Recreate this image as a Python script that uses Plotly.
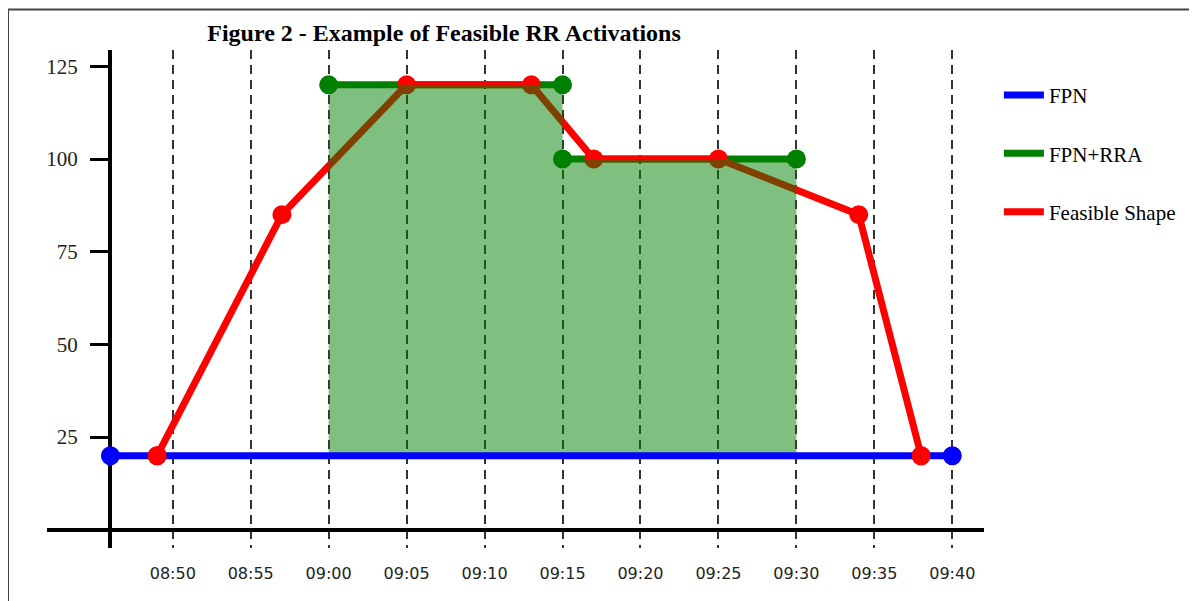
import plotly.graph_objects as go

DAY = "2024-01-01 "

# FPN (flat physical notification)
fpn_time = ["08:46", "09:40"]
fpn_mw = [20, 20]

# FPN + RR acceptance, two blocks
rra_time = ["09:00", "09:15", None, "09:15", "09:30"]
rra_mw = [120, 120, None, 100, 100]

# feasible shape
shape_time = ["08:49", "08:57", "09:05", "09:13", "09:17", "09:25", "09:34", "09:38"]
shape_mw = [20, 85, 120, 120, 100, 100, 85, 20]

tick_times = ["08:50", "08:55", "09:00", "09:05", "09:10", "09:15",
              "09:20", "09:25", "09:30", "09:35", "09:40"]
y_ticks = [25, 50, 75, 100, 125]


def ts(t):
    return None if t is None else DAY + t


# polygon for the shaded RRA area: from the FPN level up to the RRA blocks
blocks = [(rra_time[i], rra_time[i + 1], rra_mw[i]) for i in range(len(rra_time) - 1)
          if rra_time[i] is not None and rra_time[i + 1] is not None]
fill_x = [ts(blocks[0][0])]
fill_y = [fpn_mw[0]]
for t0, t1, v in blocks:
    fill_x += [ts(t0), ts(t1)]
    fill_y += [v, v]
fill_x.append(ts(blocks[-1][1]))
fill_y.append(fpn_mw[-1])

fig = go.Figure()


def add_series(times, vals, name, color, group, rank):
    # line trace carries the legend entry, markers are a separate trace
    x = [ts(t) for t in times]
    fig.add_trace(go.Scatter(x=x, y=vals, name=name, mode="lines",
                             line=dict(color=color, width=7),
                             legendgroup=group, legendrank=rank))
    fig.add_trace(go.Scatter(x=x, y=vals, name=name, mode="markers",
                             marker=dict(size=19, color=color),
                             legendgroup=group, showlegend=False))


add_series(rra_time, rra_mw, "FPN+RRA", "green", "b", 2)
add_series(shape_time, shape_mw, "Feasible Shape", "red", "c", 3)

fig.add_trace(go.Scatter(
    x=fill_x, y=fill_y, fill="toself", fillcolor="rgba(0,128,0,0.5)",
    mode="none", showlegend=False, hoverinfo="skip"))

add_series(fpn_time, fpn_mw, "FPN", "blue", "a", 1)

# the shape's start/end points sit on the FPN line and stay visible above it
ends = [i for i, v in enumerate(shape_mw) if v == fpn_mw[0]]
fig.add_trace(go.Scatter(
    x=[ts(shape_time[i]) for i in ends], y=[shape_mw[i] for i in ends],
    mode="markers", marker=dict(size=19, color="red"),
    legendgroup="c", showlegend=False))

# page frame (top and left edges)
fig.add_shape(type="line", xref="paper", yref="paper", x0=-0.0416, x1=1.3,
              y0=1.0813, y1=1.0813, line=dict(color="#444", width=2))
fig.add_shape(type="line", xref="paper", yref="paper", x0=-0.0416, x1=-0.0416,
              y0=1.0813, y1=-0.2, line=dict(color="#444", width=2))

fig.update_layout(
    width=1189, height=593,
    margin=dict(l=39, r=213, t=42, b=53),
    paper_bgcolor="white", plot_bgcolor="white",
    title=dict(text="<b>Figure 2 - Example of Feasible RR Activations</b>",
               x=0.4237, xref="paper", xanchor="center",
               y=1 - 25 / 593, yref="container", yanchor="middle",
               font=dict(family="Liberation Serif", size=24, color="black")),
    showlegend=True,
    legend=dict(x=1.0159, xanchor="left", y=0.95, yanchor="top",
                traceorder="grouped", tracegroupgap=28, itemwidth=40,
                font=dict(family="Liberation Serif", size=21, color="black"),
                bgcolor="rgba(0,0,0,0)"),
    xaxis=dict(
        type="date", range=[DAY + "08:41:56", DAY + "09:42:02"],
        tickvals=[ts(t) for t in tick_times], tickformat="%H:%M",
        showgrid=True, gridcolor="#333", gridwidth=2, griddash="9px,6px",
        showline=False, zeroline=False, ticks="", ticklabelstandoff=14,
        tickfont=dict(family="DejaVu Sans", size=16, color="#222"),
        fixedrange=True),
    yaxis=dict(
        range=[-4.9, 129.4], tickvals=y_ticks,
        showgrid=False, zeroline=True, zerolinecolor="black", zerolinewidth=4,
        showline=True, linecolor="black", linewidth=4,
        anchor="free", position=0.0672, layer="below traces",
        ticks="outside", ticklen=18, tickwidth=2.5, tickcolor="black",
        ticklabelstandoff=8,
        tickfont=dict(family="Liberation Serif", size=21, color="#222"),
        fixedrange=True),
)

fig.write_html("out.html")
